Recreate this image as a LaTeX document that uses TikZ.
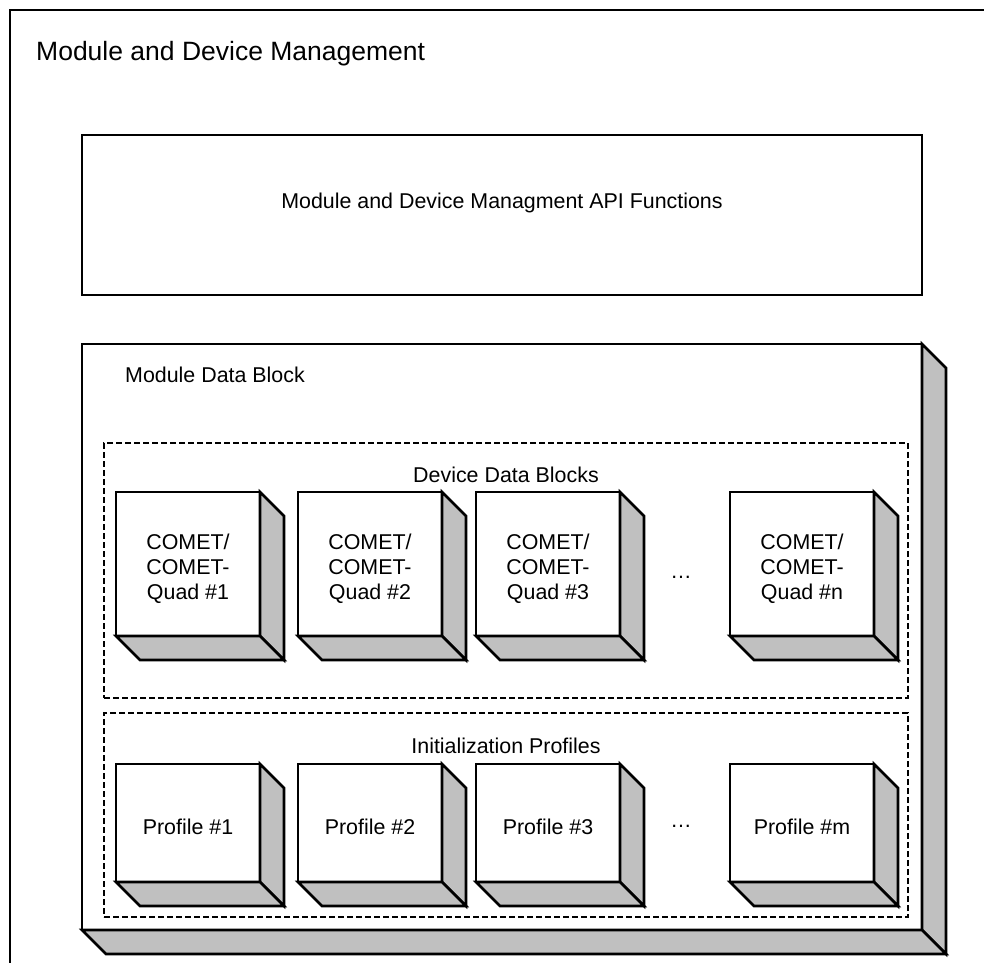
\documentclass[tikz,border=0pt]{standalone}
\usepackage{fontspec}
\setmainfont{Liberation Sans}
\definecolor{shade}{HTML}{C0C0C0}
\newcommand{\cubeat}[6]{% name, x, y, text, height, text shift
  \node[face, minimum width=144pt, minimum height=#5pt] (#1) at (#2,#3) {};
  \draw[side] (#1.north east) -- ++(24,24) -- ([shift={(24,24)}]#1.south east) -- (#1.south east) -- cycle;
  \draw[side] (#1.south west) -- (#1.south east) -- ++(24,24) -- ([shift={(24,24)}]#1.south west) -- cycle;
  \node[txt, align=center] (#1t) at ([yshift=#6pt]#1.center) {#4};
}
\begin{document}
\begin{tikzpicture}[x=1pt,y=-1pt,
  txt/.style={font=\fontsize{21.4}{25}\selectfont, inner sep=0pt},
  face/.style={draw, line width=2.6pt, fill=white, rectangle, inner sep=0pt, outer sep=0pt},
  side/.style={draw, line width=2.6pt, fill=shade, line join=miter},
  dashbox/.style={draw, line width=1.8pt, dash pattern=on 6pt off 3pt, rectangle, inner sep=0pt, outer sep=0pt}
]
\useasboundingbox (0,0) rectangle (984,962);
\clip (0,0) rectangle (984,962);
\fill[white] (0,0) rectangle (984,962);
% outer frame
\node[draw, line width=2.6pt, rectangle, inner sep=0pt, outer sep=0pt, minimum width=1000pt, minimum height=1000pt, anchor=north west] (frame) at (10,10) {};
\node[txt, font=\fontsize{26.5}{30}\selectfont, anchor=base west] (title) at (36,60) {Module and Device Management};
% API box
\node[face, minimum width=840pt, minimum height=160pt] (api) at (502,215) {};
\node[txt, anchor=base] (apitxt) at (502,208) {Module and Device Managment API Functions};
% Module data block
\node[face, minimum width=840pt, minimum height=586pt] (mdb) at (502,637) {};
\draw[side] (mdb.north east) -- ++(24,24) -- ([shift={(24,24)}]mdb.south east) -- (mdb.south east) -- cycle;
\draw[side] (mdb.south west) -- (mdb.south east) -- ++(24,24) -- ([shift={(24,24)}]mdb.south west) -- cycle;
\node[txt, anchor=base west] (mdbtxt) at (125,382) {Module Data Block};
% dashed groups
\node[dashbox, minimum width=804pt, minimum height=255pt] (ddb) at (506,570.5) {};
\node[dashbox, minimum width=804pt, minimum height=204pt] (ip) at (506,815) {};
% device cubes
\cubeat{d1}{188}{564}{COMET/\\COMET-\\Quad \#1}{144}{-5}
\cubeat{d2}{370}{564}{COMET/\\COMET-\\Quad \#2}{144}{-5}
\cubeat{d3}{548}{564}{COMET/\\COMET-\\Quad \#3}{144}{-5}
\cubeat{dn}{802}{564}{COMET/\\COMET-\\Quad \#n}{144}{-5}
\node[txt, anchor=base] (ddots) at (681,578) {…};
% profile cubes
\cubeat{p1}{188}{823}{Profile \#1}{118}{-4}
\cubeat{p2}{370}{823}{Profile \#2}{118}{-4}
\cubeat{p3}{548}{823}{Profile \#3}{118}{-4}
\cubeat{pm}{802}{823}{Profile \#m}{118}{-4}
\node[txt, anchor=base] (pdots) at (681,827) {…};
% group labels
\node[txt, anchor=base] (ddbtxt) at (506,482) {Device Data Blocks};
\node[txt, anchor=base] (iptxt) at (506,753) {Initialization Profiles};
\end{tikzpicture}
\end{document}
